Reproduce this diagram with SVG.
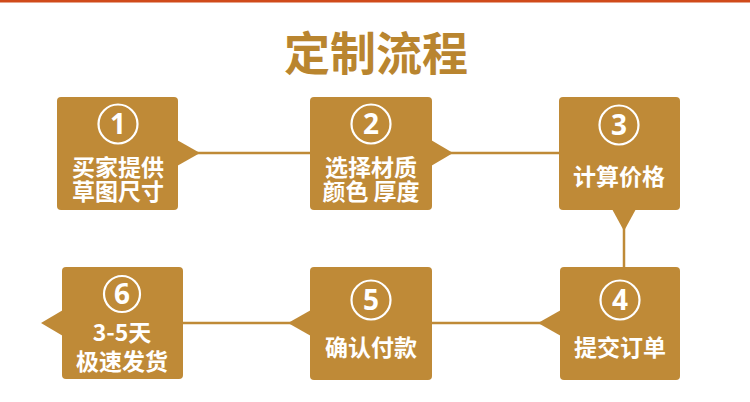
<svg xmlns="http://www.w3.org/2000/svg" width="750" height="402" viewBox="0 0 750 402">
<style>
.box{fill:#bf8a37}
.ln{stroke:#bf8a37;stroke-width:2.5;fill:none}
.cir{fill:none;stroke:#fff;stroke-width:2.2}
.num{font-family:"Open Sans","Noto Sans",sans-serif;font-weight:700;font-size:28px;fill:#fff;text-anchor:middle}
.t{font-family:"Noto Sans CJK SC",sans-serif;font-weight:700;font-size:23px;fill:#fff;text-anchor:middle}
.title{font-family:"Noto Sans CJK SC",sans-serif;font-weight:700;font-size:46px;fill:#b9852f;text-anchor:middle}
</style>
<rect x="0" y="0" width="750" height="402" fill="#fff"/>
<rect x="0" y="0" width="750" height="2.5" fill="#d04a1a"/>
<text class="title" x="376" y="70">定制流程</text>
<g id="connectors">
<line class="ln" x1="195" y1="153" x2="311" y2="153"/>
<line class="ln" x1="448" y1="153" x2="560" y2="153"/>
<line class="ln" x1="624" y1="225" x2="624" y2="268"/>
<line class="ln" x1="432" y1="323" x2="545" y2="323"/>
<line class="ln" x1="183" y1="323" x2="295" y2="323"/>
</g>
<g id="node1">
<rect class="box" x="57" y="97" width="121" height="113" rx="4"/>
<polygon class="box" points="177,140 200,153 177,166"/>
<circle class="cir" cx="118" cy="124" r="19.5"/>
<text class="num" x="118" y="134">1</text>
<text class="t" x="118" y="176">买家提供</text>
<text class="t" x="118" y="200">草图尺寸</text>
</g>
<g id="node2">
<rect class="box" x="310" y="97" width="122" height="113" rx="4"/>
<polygon class="box" points="431,140 453,153 431,166"/>
<circle class="cir" cx="371" cy="124" r="19.5"/>
<text class="num" x="371" y="134">2</text>
<text class="t" x="371" y="176">选择材质</text>
<text class="t" x="371" y="200">颜色 厚度</text>
</g>
<g id="node3">
<rect class="box" x="559" y="97" width="121" height="113" rx="4"/>
<polygon class="box" points="612,209 636,209 624,231"/>
<circle class="cir" cx="619" cy="125" r="19.5"/>
<text class="num" x="619" y="135">3</text>
<text class="t" x="619" y="185">计算价格</text>
</g>
<g id="node4">
<rect class="box" x="560" y="267" width="120" height="113" rx="4"/>
<polygon class="box" points="561,310 538,323 561,336"/>
<circle class="cir" cx="620" cy="300" r="19.5"/>
<text class="num" x="620" y="310">4</text>
<text class="t" x="620" y="356">提交订单</text>
</g>
<g id="node5">
<rect class="box" x="310" y="267" width="122" height="113" rx="4"/>
<polygon class="box" points="311,310 288,323 311,336"/>
<circle class="cir" cx="371" cy="300" r="19.5"/>
<text class="num" x="371" y="310">5</text>
<text class="t" x="371" y="356">确认付款</text>
</g>
<g id="node6">
<rect class="box" x="62" y="267" width="121" height="112" rx="4"/>
<polygon class="box" points="63,310 41,323 63,336"/>
<circle class="cir" cx="122" cy="294" r="18"/>
<text class="num" x="122" y="304">6</text>
<text class="t" x="122" y="341">3-5天</text>
<text class="t" x="122" y="370">极速发货</text>
</g>
</svg>
